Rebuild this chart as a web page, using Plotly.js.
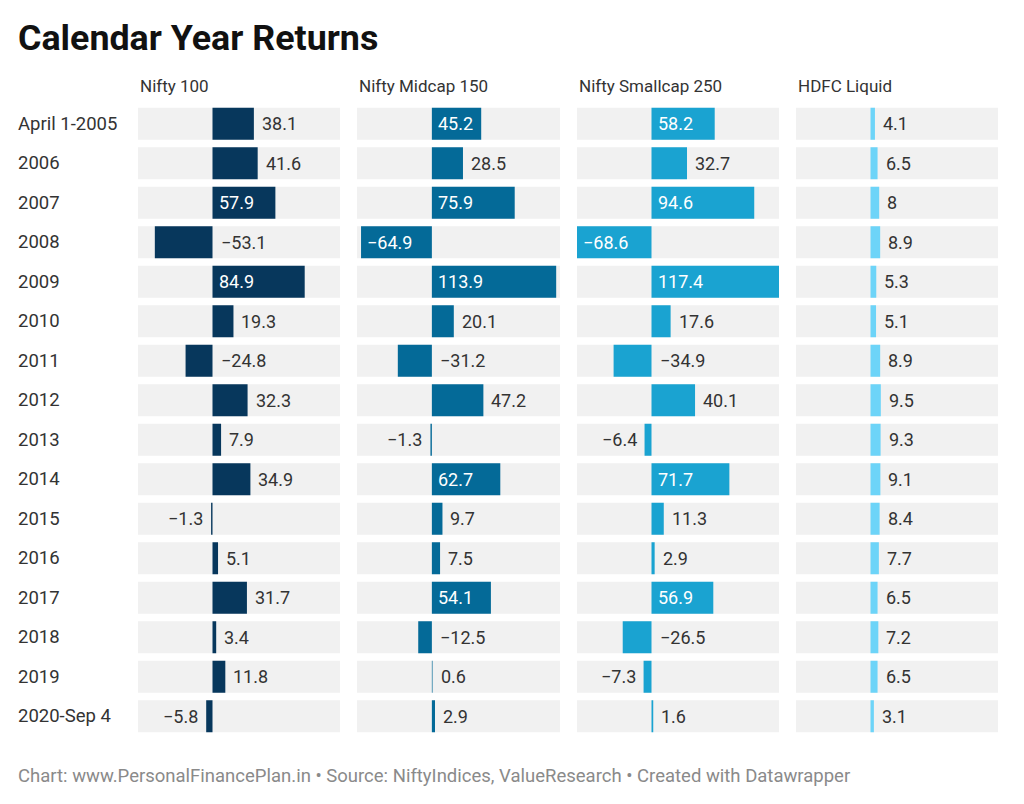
<!DOCTYPE html>
<html><head><meta charset="utf-8">
<script src="https://cdn.plot.ly/plotly-3.0.1.min.js"></script>
<style>body{margin:0;background:#fff}</style></head>
<body><div id="chart" style="width:1024px;height:804px"></div>
<script>
var years = ["April 1-2005","2006","2007","2008","2009","2010","2011","2012","2013","2014","2015","2016","2017","2018","2019","2020-Sep 4"];
var seriesNames = ["Nifty 100","Nifty Midcap 150","Nifty Smallcap 250","HDFC Liquid"];
var nifty100 = [38.1,41.6,57.9,-53.1,84.9,19.3,-24.8,32.3,7.9,34.9,-1.3,5.1,31.7,3.4,11.8,-5.8];
var midcap150 = [45.2,28.5,75.9,-64.9,113.9,20.1,-31.2,47.2,-1.3,62.7,9.7,7.5,54.1,-12.5,0.6,2.9];
var smallcap250 = [58.2,32.7,94.6,-68.6,117.4,17.6,-34.9,40.1,-6.4,71.7,11.3,2.9,56.9,-26.5,-7.3,1.6];
var hdfcLiquid = [4.1,6.5,8,8.9,5.3,5.1,8.9,9.5,9.3,9.1,8.4,7.7,6.5,7.2,6.5,3.1];

var series = [nifty100, midcap150, smallcap250, hdfcLiquid];
var colors = ["#07375c","#046a98","#1aa3d1","#6dd4f8"];
var xmin = -68.6, xmax = 117.4;
var domains = [[138,340],[357,560],[577,779],[796,998]];

var data = [], annotations = [];
var layout = {
    width: 1024, height: 804,
    margin: {l: 0, r: 0, t: 103.5, b: 67.5, pad: 0},
    showlegend: false,
    paper_bgcolor: "#fff", plot_bgcolor: "#fff",
    font: {family: "Roboto", size: 16, color: "#333"},
    barmode: "overlay",
    yaxis: {type: "category", categoryorder: "array", categoryarray: years,
            range: [years.length - 0.5, -0.5], autorange: false,
            showticklabels: false, showgrid: false, zeroline: false, fixedrange: true}
};

function fmt(v) { return v < 0 ? "\u2212" + Math.abs(v) : String(v); }

series.forEach(function(vals, i) {
    var ax = i === 0 ? "" : String(i + 1);
    var xa = "x" + ax;
    layout["xaxis" + ax] = {
        domain: [domains[i][0] / 1024, domains[i][1] / 1024],
        range: [xmin, xmax], showgrid: false, zeroline: false,
        showticklabels: false, fixedrange: true
    };
    data.push({
        type: "bar", orientation: "h", x: years.map(function() { return xmax - xmin; }),
        base: xmin, y: years, xaxis: xa, yaxis: "y", width: 0.81,
        marker: {color: "#f1f1f1"}, hoverinfo: "skip"
    });
    data.push({
        type: "bar", orientation: "h", x: vals, y: years, xaxis: xa, yaxis: "y",
        width: 0.81, marker: {color: colors[i]}, hoverinfo: "x"
    });
    annotations.push({
        xref: "paper", yref: "paper", x: domains[i][0] / 1024, y: 1, yshift: 18,
        xanchor: "left", yanchor: "middle", showarrow: false,
        text: seriesNames[i], font: {size: 17, color: "#333"}
    });
    vals.forEach(function(v, j) {
        var a = {xref: xa, yref: "y", y: j, showarrow: false, text: fmt(v),
                 font: {size: 18, color: "#333"}, yanchor: "middle"};
        if (v >= 45 && v !== 47.2) {
            a.x = 0; a.xanchor = "left"; a.xshift = 4; a.font.color = "#fff";
        } else if (v >= 0) {
            a.x = v; a.xanchor = "left"; a.xshift = 6;
        } else if (v <= -60) {
            a.x = v; a.xanchor = "left"; a.xshift = 4; a.font.color = "#fff";
        } else if (v <= -10) {
            a.x = 0; a.xanchor = "left"; a.xshift = 6;
        } else {
            a.x = v; a.xanchor = "right"; a.xshift = -6;
        }
        annotations.push(a);
    });
});

years.forEach(function(yr, j) {
    annotations.push({xref: "paper", yref: "y", x: 16 / 1024, y: j, xanchor: "left",
        yanchor: "middle", showarrow: false, text: yr, font: {size: 18.5, color: "#333"}});
});

annotations.push({xref: "paper", yref: "paper", x: 16 / 1024, y: 1, yshift: 66,
    xanchor: "left", yanchor: "middle", showarrow: false,
    text: "<b>Calendar Year Returns</b>", font: {size: 35.8, color: "#111"}});
annotations.push({xref: "paper", yref: "paper", x: 16 / 1024, y: 0, yshift: -40,
    xanchor: "left", yanchor: "middle", showarrow: false,
    text: "Chart: www.PersonalFinancePlan.in • Source: NiftyIndices, ValueResearch • Created with Datawrapper",
    font: {size: 18.5, color: "#8a8a8a"}});

layout.annotations = annotations;
Plotly.newPlot("chart", data, layout, {displayModeBar: false, staticPlot: true});
</script></body></html>
